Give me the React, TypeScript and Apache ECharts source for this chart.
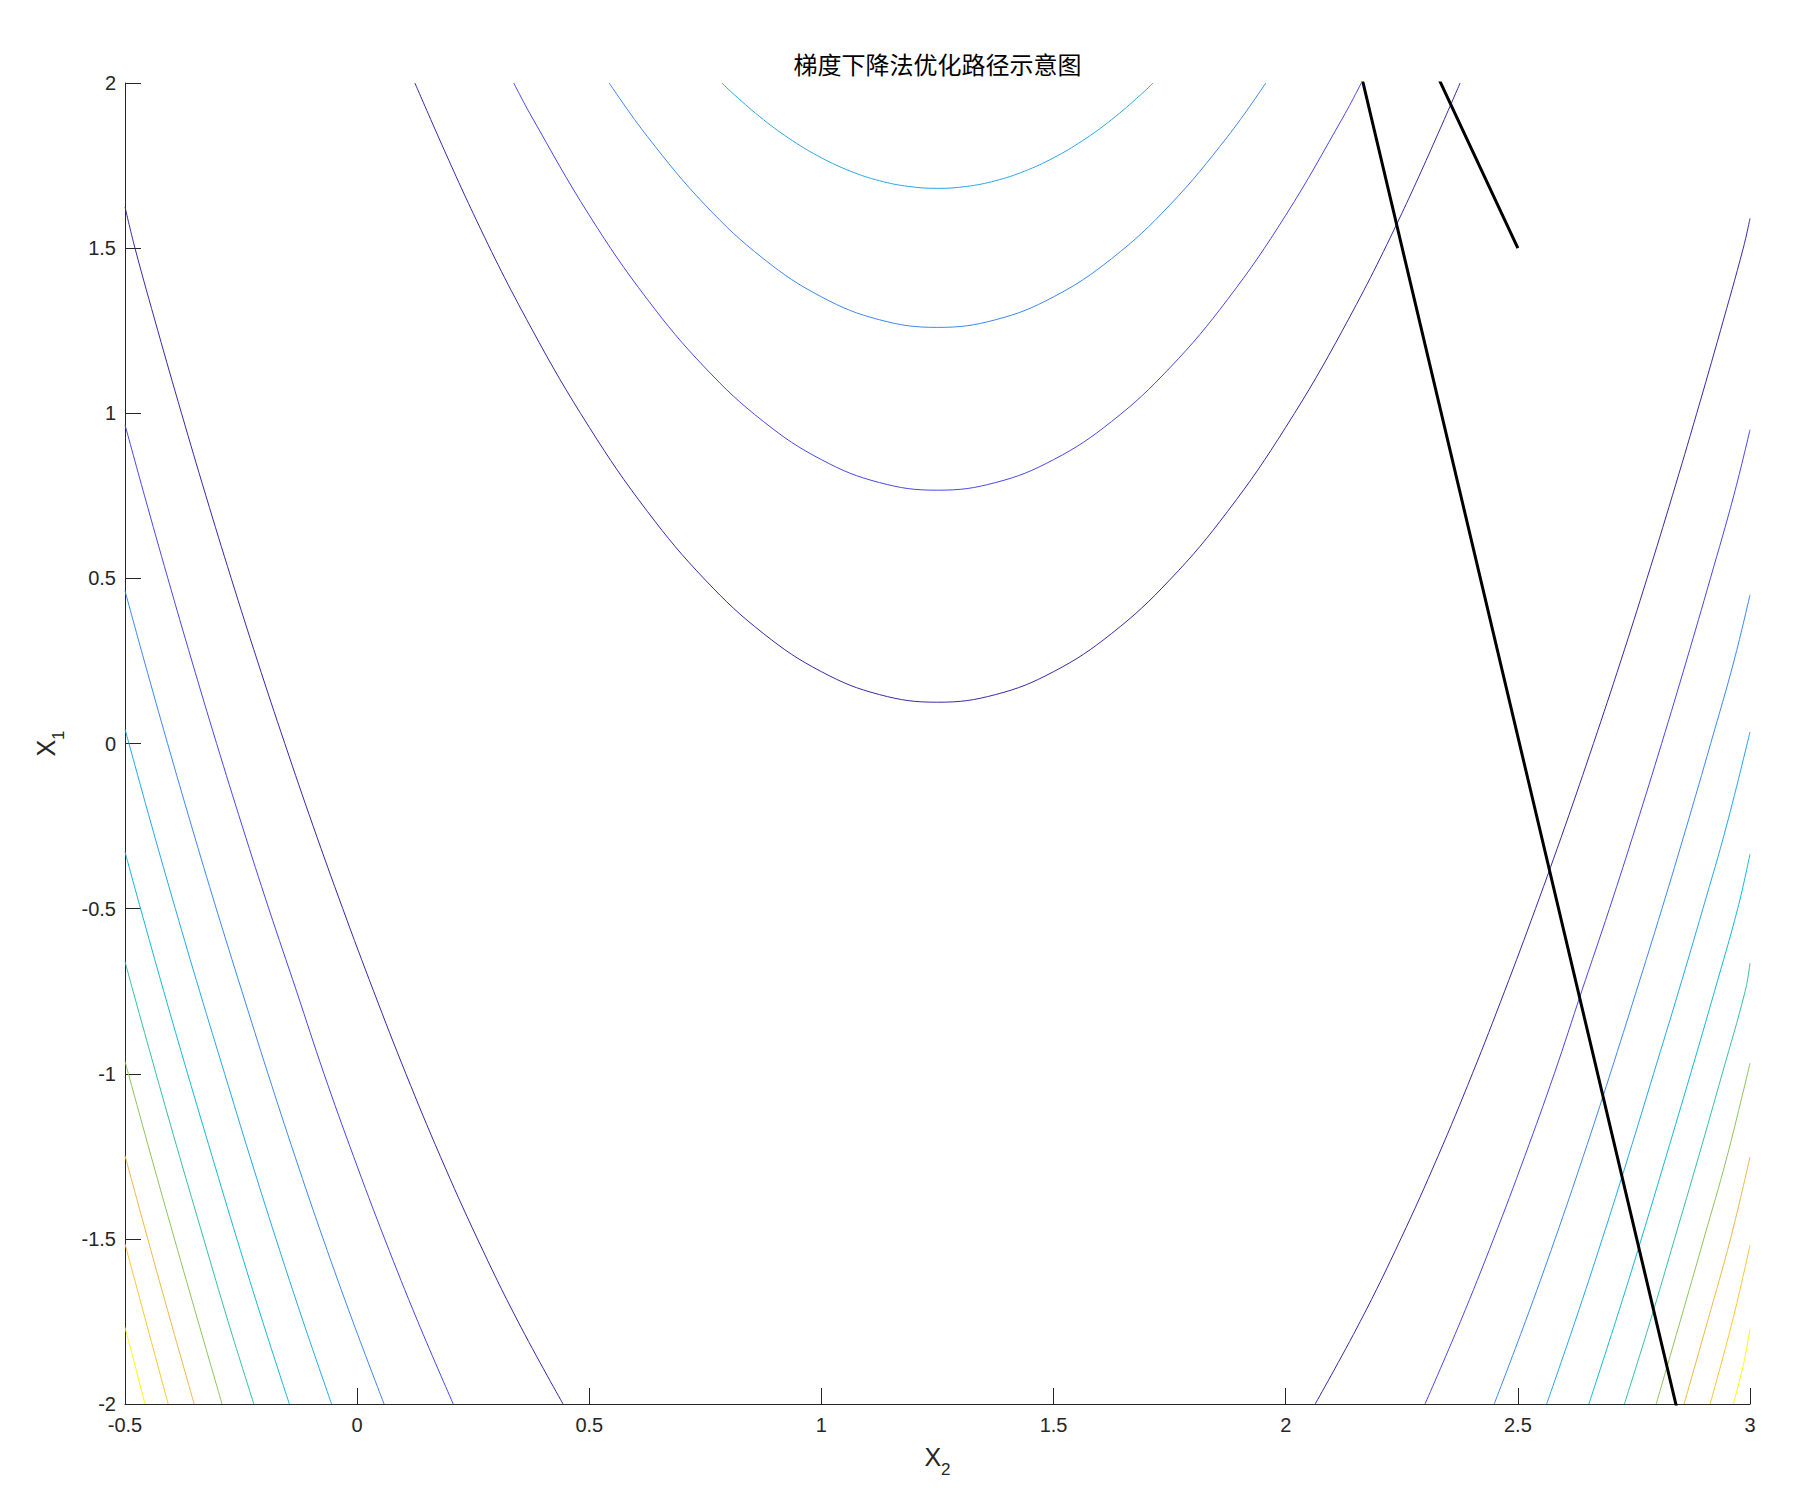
import React, { useEffect, useRef } from 'react';
import * as echarts from 'echarts';

// ---------- text ----------
const chartTitle = '梯度下降法优化路径示意图';
const xName = '{x|X}{s|2}';
const yName = '{x|X}{s|1}';

// ---------- axes ----------
const xMin = -0.5;
const xMax = 3;
const xStep = 0.5;
const yMin = -2;
const yMax = 2;
const yStep = 0.5;

// ---------- contour level colours (parula, low -> high) ----------
const levelColors = [
  '#3e26a8', '#4748ea', '#3d87f5', '#24a8e6', '#12bbd0',
  '#36c29c', '#8cc65a', '#edba44', '#fac82e', '#f9fb0e',
];

// ---------- contour lines, points are [x2, x1] ----------
// upper U-shaped branches (levels 1..4)
const upper1: number[][] = [
  [0.1244, 2], [0.25, 1.605], [0.375, 1.2581], [0.5, 0.9575], [0.625, 0.7031], [0.75, 0.495],
  [0.875, 0.3331], [1.0, 0.2175], [1.125, 0.1481], [1.25, 0.125], [1.375, 0.1481], [1.5, 0.2175],
  [1.625, 0.3331], [1.75, 0.495], [1.875, 0.7031], [2.0, 0.9575], [2.125, 1.2581], [2.25, 1.605], [2.3756, 2],
];
const upper2: number[][] = [
  [0.3373, 2], [0.375, 1.9001], [0.5, 1.5995], [0.625, 1.3451], [0.75, 1.137], [0.875, 0.9751],
  [1.0, 0.8595], [1.125, 0.7901], [1.25, 0.767], [1.375, 0.7901], [1.5, 0.8595], [1.625, 0.9751],
  [1.75, 1.137], [1.875, 1.3451], [2.0, 1.5995], [2.125, 1.9001], [2.1627, 2],
];
const upper3: number[][] = [
  [0.5429, 2], [0.625, 1.8381], [0.75, 1.63], [0.875, 1.4681], [1.0, 1.3525], [1.125, 1.2831],
  [1.25, 1.26], [1.375, 1.2831], [1.5, 1.3525], [1.625, 1.4681], [1.75, 1.63], [1.875, 1.8381], [1.9571, 2],
];
const upper4: number[][] = [
  [0.7857, 2], [0.8125, 1.9643], [0.875, 1.8891], [0.9375, 1.8255], [1.0, 1.7735], [1.0625, 1.733],
  [1.125, 1.7041], [1.1875, 1.6868], [1.25, 1.681], [1.3125, 1.6868], [1.375, 1.7041], [1.4375, 1.733],
  [1.5, 1.7735], [1.5625, 1.8255], [1.625, 1.8891], [1.6875, 1.9643], [1.7143, 2],
];

// left branches (levels 1..10)
const left1: number[][] = [
  [-0.5, 1.625], [-0.4785, 1.5], [-0.4293, 1.25], [-0.3783, 1.0], [-0.3257, 0.75], [-0.2712, 0.5],
  [-0.2147, 0.25], [-0.1558, 0], [-0.0948, -0.25], [-0.031, -0.5], [0.0355, -0.75], [0.105, -1],
  [0.1791, -1.25], [0.2591, -1.5], [0.3464, -1.75], [0.4435, -2],
];
const left2: number[][] = [
  [-0.5, 0.965], [-0.4579, 0.75], [-0.4077, 0.5], [-0.356, 0.25], [-0.3027, 0], [-0.2475, -0.25],
  [-0.1903, -0.5], [-0.1305, -0.75], [-0.0714, -1], [-0.0078, -1.25], [0.0593, -1.5], [0.1306, -1.75], [0.207, -2],
];
const left3: number[][] = [
  [-0.5, 0.4625], [-0.4585, 0.25], [-0.4083, 0], [-0.3567, -0.25], [-0.3034, -0.5], [-0.2482, -0.75],
  [-0.192, -1], [-0.1339, -1.25], [-0.0732, -1.5], [-0.0093, -1.75], [0.058, -2],
];
const left4: number[][] = [
  [-0.5, 0.044], [-0.4915, 0], [-0.4423, -0.25], [-0.3916, -0.5], [-0.3393, -0.75], [-0.2853, -1],
  [-0.231, -1.25], [-0.1748, -1.5], [-0.1163, -1.75], [-0.055, -2],
];
const left5: number[][] = [
  [-0.5, -0.328], [-0.4665, -0.5], [-0.4166, -0.75], [-0.3651, -1], [-0.3124, -1.25], [-0.259, -1.5],
  [-0.2036, -1.75], [-0.146, -2],
];
const left6: number[][] = [
  [-0.5, -0.66], [-0.4826, -0.75], [-0.4331, -1], [-0.3825, -1.25], [-0.3305, -1.5], [-0.278, -1.75], [-0.2225, -2],
];
const left7: number[][] = [
  [-0.5, -0.962], [-0.4927, -1], [-0.4437, -1.25], [-0.3935, -1.5], [-0.3425, -1.75], [-0.291, -2],
];
const left8: number[][] = [[-0.5, -1.248], [-0.451, -1.5], [-0.4015, -1.75], [-0.351, -2]];
const left9: number[][] = [[-0.5, -1.515], [-0.455, -1.75], [-0.407, -2]];
const left10: number[][] = [[-0.5, -1.768], [-0.479, -1.88], [-0.457, -2]];

// right branches (levels 1..10)
const right1: number[][] = [
  [3, 1.59], [2.9855, 1.5], [2.9363, 1.25], [2.8853, 1.0], [2.8327, 0.75], [2.7782, 0.5],
  [2.7217, 0.25], [2.6628, 0], [2.6018, -0.25], [2.538, -0.5], [2.4715, -0.75], [2.402, -1],
  [2.3279, -1.25], [2.2479, -1.5], [2.1606, -1.75], [2.0635, -2],
];
const right2: number[][] = [
  [3, 0.95], [2.9649, 0.75], [2.9147, 0.5], [2.863, 0.25], [2.8097, 0], [2.7545, -0.25],
  [2.6973, -0.5], [2.6375, -0.75], [2.5784, -1], [2.5148, -1.25], [2.4477, -1.5], [2.3764, -1.75], [2.3, -2],
];
const right3: number[][] = [
  [3, 0.45], [2.9655, 0.25], [2.9153, 0], [2.8637, -0.25], [2.8104, -0.5], [2.7552, -0.75],
  [2.699, -1], [2.6409, -1.25], [2.5802, -1.5], [2.5163, -1.75], [2.449, -2],
];
const right4: number[][] = [
  [3, 0.035], [2.9493, -0.25], [2.8986, -0.5], [2.8463, -0.75], [2.7923, -1],
  [2.738, -1.25], [2.6818, -1.5], [2.6233, -1.75], [2.562, -2],
];
const right5: number[][] = [
  [3, -0.335], [2.9735, -0.5], [2.9236, -0.75], [2.8721, -1], [2.8194, -1.25], [2.766, -1.5],
  [2.7106, -1.75], [2.653, -2],
];
const right6: number[][] = [
  [3, -0.665], [2.9896, -0.75], [2.9401, -1], [2.8895, -1.25], [2.8375, -1.5], [2.785, -1.75], [2.7295, -2],
];
const right7: number[][] = [[3, -0.968], [2.9507, -1.25], [2.9005, -1.5], [2.8495, -1.75], [2.798, -2]];
const right8: number[][] = [[3, -1.252], [2.958, -1.5], [2.9085, -1.75], [2.858, -2]];
const right9: number[][] = [[3, -1.52], [2.962, -1.75], [2.914, -2]];
const right10: number[][] = [[3, -1.772], [2.986, -1.88], [2.964, -2]];

// gradient-descent path (x2, x1)
const pathX2 = [2.5, 1.995, 3.177];
const pathX1 = [1.5, 3.02, -4];

// ---------- assembling ----------
const upperByLevel = [upper1, upper2, upper3, upper4];
const leftByLevel = [left1, left2, left3, left4, left5, left6, left7, left8, left9, left10];
const rightByLevel = [right1, right2, right3, right4, right5, right6, right7, right8, right9, right10];

const axisColor = '#262626';
const tickFont = 'Liberation Sans, Arial, Helvetica, sans-serif';

function contourSeries(data: number[][], level: number, key: string) {
  return {
    type: 'line',
    name: key,
    data,
    showSymbol: false,
    symbol: 'none',
    smooth: 0.4,
    clip: true,
    silent: true,
    lineStyle: { color: levelColors[level], width: 1 },
    z: 2,
  };
}

function buildOption() {
  const series: any[] = [];
  upperByLevel.forEach((d, i) => series.push(contourSeries(d, i, 'upper' + (i + 1))));
  leftByLevel.forEach((d, i) => series.push(contourSeries(d, i, 'left' + (i + 1))));
  rightByLevel.forEach((d, i) => series.push(contourSeries(d, i, 'right' + (i + 1))));
  series.push({
    type: 'line',
    name: 'path',
    data: pathX2.map((x, i) => [x, pathX1[i]]),
    showSymbol: false,
    symbol: 'none',
    clip: true,
    silent: true,
    lineStyle: { color: '#000000', width: 3 },
    z: 5,
  });

  const nameRich = {
    x: { fontSize: 25, fontFamily: tickFont, color: axisColor, lineHeight: 34, verticalAlign: 'top' },
    s: { fontSize: 17, fontFamily: tickFont, color: axisColor, lineHeight: 17, verticalAlign: 'bottom' },
  };

  return {
    animation: false,
    backgroundColor: '#ffffff',
    grid: { left: 125, right: 48, top: 83, bottom: 98, containLabel: false },
    graphic: [
      {
        type: 'text',
        x: 937.5,
        y: 63,
        style: {
          text: chartTitle,
          textAlign: 'center',
          textVerticalAlign: 'middle',
          fontSize: 24,
          fontFamily: 'Noto Sans CJK SC, sans-serif',
          fill: '#000000',
        },
      },
    ],
    xAxis: {
      type: 'value',
      min: xMin,
      max: xMax,
      interval: xStep,
      axisLine: { show: true, onZero: false, lineStyle: { color: axisColor, width: 1 } },
      axisTick: { show: true, inside: true, length: 16, lineStyle: { color: axisColor, width: 1 } },
      axisLabel: { color: axisColor, fontSize: 20, fontFamily: tickFont, margin: 11, showMinLabel: true, showMaxLabel: true },
      splitLine: { show: false },
      name: xName,
      nameLocation: 'middle',
      nameGap: 40,
      nameTextStyle: { rich: nameRich },
    },
    yAxis: {
      type: 'value',
      min: yMin,
      max: yMax,
      interval: yStep,
      axisLine: { show: true, onZero: false, lineStyle: { color: axisColor, width: 1 } },
      axisTick: { show: true, inside: true, length: 16, lineStyle: { color: axisColor, width: 1 } },
      axisLabel: { color: axisColor, fontSize: 20, fontFamily: tickFont, margin: 9, showMinLabel: true, showMaxLabel: true },
      splitLine: { show: false },
      name: yName,
      nameLocation: 'middle',
      nameGap: 58,
      nameRotate: 90,
      nameTextStyle: { rich: nameRich },
    },
    series,
  };
}

export default function App() {
  const ref = useRef<HTMLDivElement>(null);
  useEffect(() => {
    if (!ref.current) return;
    const chart = echarts.init(ref.current, null, { renderer: 'svg' });
    chart.setOption(buildOption() as any);
    return () => chart.dispose();
  }, []);
  return (
    <div
      ref={ref}
      style={{ position: 'fixed', left: 0, top: 0, width: 1798, height: 1502, background: '#ffffff' }}
    />
  );
}
